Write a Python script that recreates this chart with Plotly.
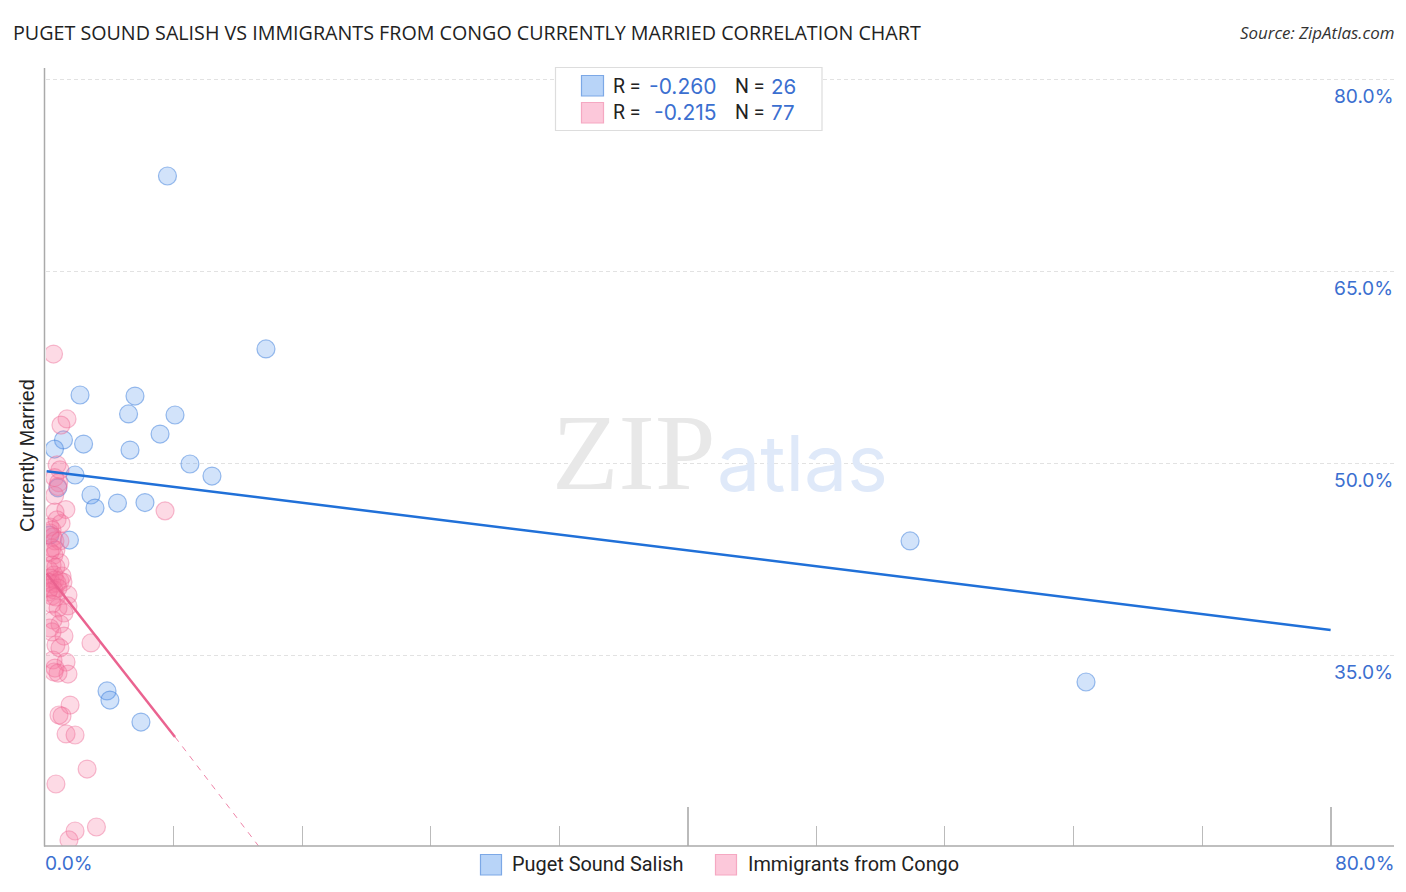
import plotly.graph_objects as go

W, H = 1406, 892
L, R, T, B = 46, 1394, 68, 846

salish_x = [7.62, 13.75, 2.18, 5.6, 5.2, 8.09, 7.16, 1.15, 2.4, 0.59, 5.29, 9.02, 10.39, 1.87, 0.8, 2.86, 3.11, 4.51, 6.22, 1.52, 53.83, 64.78, 3.86, 4.04, 5.97, 0.3]
salish_y = [72.46, 58.95, 55.35, 55.27, 53.87, 53.79, 52.3, 51.84, 51.52, 51.13, 51.05, 49.96, 49.02, 49.1, 48.1, 47.54, 46.52, 46.91, 46.95, 44.02, 43.95, 32.93, 32.23, 31.52, 29.8, 44.4]

congo_x = [0.53, 1.37, 0.99, 7.47, 2.86, 0.75, 0.93, 0.6, 0.85, 0.8, 0.6, 1.3, 0.62, 0.75, 1.0,
           0.31, 0.44, 0.31, 0.5, 0.62, 0.93, 0.44, 0.68, 0.31, 0.56,
           0.93, 0.44, 0.68, 0.25, 0.56, 1.06, 0.31, 0.62, 0.93, 0.19, 0.44, 0.75, 1.12, 0.31, 0.56, 0.81, 0.19, 0.44, 1.43, 0.68, 1.43, 0.44, 0.81, 1.18, 0.5, 0.93, 0.31, 1.18, 0.44, 0.68, 0.93, 0.5, 1.31, 0.62, 1.43, 0.56, 0.81,
           1.56, 0.87, 1.06, 1.31, 1.87, 2.62, 0.68, 3.2, 1.87, 1.49]
congo_y = [58.55, 53.48, 53.0, 46.3, 35.98, 49.9, 49.5, 48.9, 48.5, 48.2, 47.5, 46.4, 46.2, 45.6, 45.3,
           45.04, 44.8, 44.57, 44.26, 43.95, 43.95, 43.4, 43.24, 43.09, 42.85,
           42.23, 42.07, 41.91, 41.68, 41.29, 41.21, 41.05, 40.9, 40.82, 40.74, 40.59, 40.66, 40.74, 40.27, 40.12, 40.27, 39.96, 39.65, 39.73, 39.57, 38.87, 39.02, 38.71, 38.32, 37.77, 37.46, 37.15, 36.52, 36.84, 35.82, 35.59, 34.65, 34.49, 34.02, 33.55, 33.71, 33.63,
           31.13, 30.35, 30.27, 28.87, 28.79, 26.13, 24.96, 21.6, 21.29, 20.59]

salish_fit_x = [0.1, 80]
salish_fit_y = [49.4, 37.0]
congo_fit_x = [0.1, 8.09]
congo_fit_y = [41.4, 28.64]
congo_ext_x = [8.09, 13.3]
congo_ext_y = [28.64, 20.1]

y_ticks = [35, 50, 65, 80]
y_tick_labels = ["35.0%", "50.0%", "65.0%", "80.0%"]

BLUE_TEXT = "#3b6fd0"
DARK = "#222222"
NUM = "Inter"
SANS = "Roboto"


def px(v):
    return (v - L) / (R - L)


def py(v):
    return (B - v) / (B - T)


fig = go.Figure()
fig.add_trace(go.Scatter(x=salish_x, y=salish_y, mode="markers", name="Puget Sound Salish",
                         marker=dict(size=18, color="rgba(90,150,235,0.27)",
                                     line=dict(color="rgba(60,125,220,0.5)", width=1.2))))
fig.add_trace(go.Scatter(x=congo_x, y=congo_y, mode="markers", name="Immigrants from Congo",
                         marker=dict(size=18, color="rgba(248,120,160,0.27)",
                                     line=dict(color="rgba(235,100,145,0.42)", width=1.2))))
fig.add_trace(go.Scatter(x=salish_fit_x, y=salish_fit_y, mode="lines",
                         line=dict(color="#2070d8", width=2.5)))
fig.add_trace(go.Scatter(x=congo_fit_x, y=congo_fit_y, mode="lines",
                         line=dict(color="#ea6390", width=2.5)))
fig.add_trace(go.Scatter(x=congo_ext_x, y=congo_ext_y, mode="lines",
                         line=dict(color="#ea6390", width=0.8, dash="6px,6px")))

shapes = [
    dict(type="line", xref="paper", yref="paper", x0=px(44.5), x1=px(44.5), y0=py(68), y1=py(846.5),
         line=dict(color="#aaaaaa", width=1.5)),
    dict(type="line", xref="paper", yref="paper", x0=px(44), x1=px(1394), y0=py(846), y1=py(846),
         line=dict(color="#aaaaaa", width=1.5)),
]


def box(x0, y0, x1, y1, fill, line):
    shapes.append(dict(type="rect", xref="paper", yref="paper", x0=px(x0), x1=px(x1), y0=py(y0), y1=py(y1),
                       fillcolor=fill, line=dict(color=line, width=1.2)))


box(555.5, 67.5, 822, 130.5, "#ffffff", "#dddddd")
box(581.5, 75.5, 603.5, 96, "#b8d4f8", "#7ca8e6")
box(581.5, 102.5, 603.5, 123, "#fcc8da", "#f5a8c2")
box(480.5, 854.5, 501.5, 875, "#b8d4f8", "#7ca8e6")
box(715.5, 854.5, 736.5, 875, "#fcc8da", "#f5a8c2")

ann = []


def text(x, y, s, size, color=DARK, family=SANS, anchor="left"):
    ann.append(dict(xref="paper", yref="paper", x=px(x), y=py(y), text=s, showarrow=False,
                    xanchor=anchor, yanchor="middle", borderpad=0, align=anchor,
                    font=dict(size=size, color=color, family=family)))


text(551, 452, "ZIP", 109, "#e8e8e8", "Liberation Serif")
text(716, 463, "atlas", 77, "#dfe9f9", "Inter")
text(12, 33, "PUGET SOUND SALISH VS IMMIGRANTS FROM CONGO CURRENTLY MARRIED CORRELATION CHART", 19.7, "#222222", "Open Sans")
text(1395, 33, "<i>Source: ZipAtlas.com</i>", 16.9, "#333333", "Open Sans", "right")
text(612, 86, "R =", 19.5)
text(612, 113, "R =", 19.5)
text(718, 86, "-0.260", 21, BLUE_TEXT, NUM, "right")
text(718, 113, "-0.215", 21, BLUE_TEXT, NUM, "right")
text(734, 86, "N =", 19.5)
text(734, 113, "N =", 19.5)
text(770, 86, "26", 20.5, BLUE_TEXT, NUM)
text(770, 113, "77", 20.5, BLUE_TEXT, NUM)
text(511, 864.5, "Puget Sound Salish", 19.9)
text(747, 864.5, "Immigrants from Congo", 19.9)
text(43.5, 863, "0.0%", 19.2, BLUE_TEXT, NUM)
text(1395, 863, "80.0%", 19.2, BLUE_TEXT, NUM, "right")
for v, lab in zip(y_ticks, y_tick_labels):
    ann.append(dict(xref="paper", yref="y", x=px(1395), y=v, yshift=-16.5, text=lab, showarrow=False,
                    xanchor="right", yanchor="middle",
                    font=dict(size=19.2, color=BLUE_TEXT, family=NUM)))
ann.append(dict(xref="paper", yref="paper", x=px(27), y=py(456), text="Currently Married", showarrow=False,
                textangle=-90, xanchor="center", yanchor="middle",
                font=dict(size=19.8, color=DARK, family="Liberation Sans")))

fig.update_layout(
    width=W, height=H, autosize=False, showlegend=False,
    plot_bgcolor="white", paper_bgcolor="white",
    margin=dict(l=L, r=W - R, t=T, b=H - B, pad=0),
    shapes=shapes, annotations=ann,
    xaxis=dict(range=[(L - 45) / 16.07, (R - 45) / 16.07], showgrid=False, zeroline=False, showline=False,
               tick0=0, dtick=40, ticks="inside", ticklen=39, tickcolor="#bbbbbb", tickwidth=1.5,
               showticklabels=False,
               minor=dict(tick0=0, dtick=8, ticks="inside", ticklen=20, tickcolor="#bbbbbb", tickwidth=1.2)),
    yaxis=dict(range=[80 - (B - 79.5) / 12.8, 80 + (79.5 - T) / 12.8], tickvals=y_ticks, ticks="",
               showticklabels=False, zeroline=False, showline=False,
               showgrid=True, gridcolor="#e2e2e2", gridwidth=1, griddash="4px,3px"),
)

fig.write_html("out.html", config=dict(displayModeBar=False), post_script="document.body.style.margin='0';")
